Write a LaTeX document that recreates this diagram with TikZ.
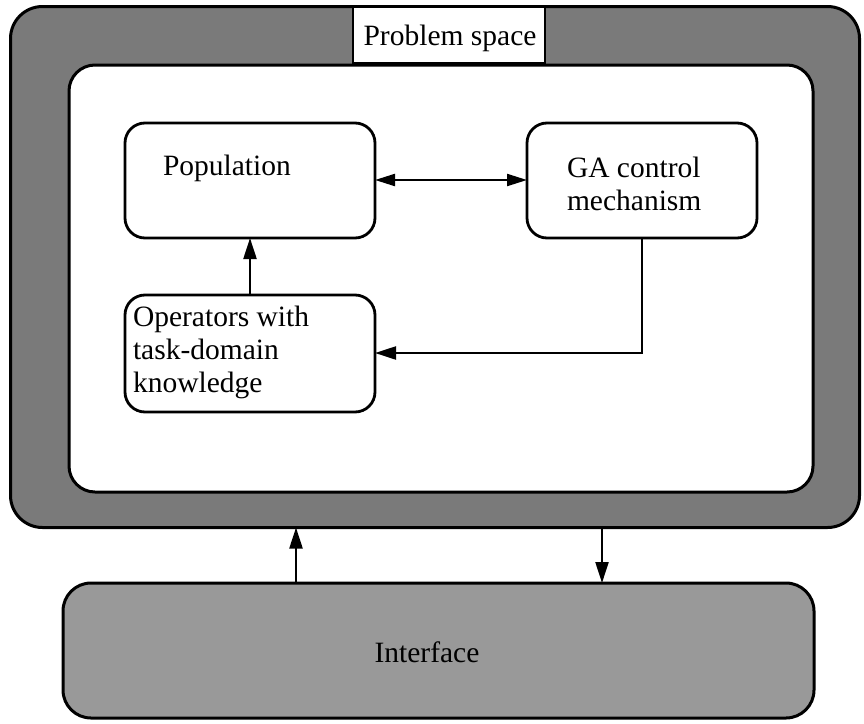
\documentclass[tikz,border=0pt]{standalone}
\usepackage{fontspec}
\setmainfont{Liberation Serif}
\usetikzlibrary{arrows.meta}
\definecolor{framegray}{gray}{0.48}
\definecolor{ifacegray}{gray}{0.6}
\begin{document}
\begin{tikzpicture}[x=1pt,y=-1pt,
  every node/.style={font=\fontsize{29.5}{33}\selectfont, inner sep=0pt, outer sep=0pt},
  box/.style={draw, line width=2.8pt, rounded corners=20pt, minimum width=#1},
  txt/.style={align=left, anchor=north west},
  arr/.style={line width=2.2pt, -{Triangle[length=21pt,width=13pt]}},
  darr/.style={line width=2.2pt, {Triangle[length=20pt,width=12pt]}-{Triangle[length=20pt,width=12pt]}}
]
\useasboundingbox (0,0) rectangle (864,723);
% outer frame
\node[draw, line width=3pt, rounded corners=32pt, fill=framegray,
      minimum width=849pt, minimum height=521pt] (outer) at (435,267) {};
% inner white area
\node[draw, line width=3pt, rounded corners=26pt, fill=white,
      minimum width=744pt, minimum height=427pt] (inner) at (441,278.5) {};
% label tab
\node[draw, line width=2.6pt, fill=white, minimum width=192pt, minimum height=56pt] (tab) at (449,35) {};
\node (tabtxt) at (450,38) {Problem space};
% boxes
\node[box=250pt, minimum height=115pt] (pop) at (250,180.5) {};
\node[txt] (poptxt) at (163,155) {Population};
\node[box=230pt, minimum height=115pt] (ga) at (642,180.5) {};
\node[txt] (gatxt) at (567,157) {GA control\\mechanism};
\node[box=250pt, minimum height=117pt] (op) at (250,353.5) {};
\node[txt] (optxt) at (133,306) {Operators with\\task-domain\\knowledge};
% interface
\node[draw, line width=3pt, rounded corners=28pt, fill=ifacegray,
      minimum width=751pt, minimum height=135pt] (iface) at (438.5,650.5) {};
\node (ifacetxt) at (427,652) {Interface};
% connectors
\draw[darr] (pop.east |- 0,180) -- (ga.west |- 0,180);
\draw[arr] (op.north) -- (op.north |- pop.south);
\coordinate (bend) at (642,353);
\draw[arr] (ga.south) -- (bend) -- (op.east |- bend);
\draw[arr] (iface.north -| 296,0) -- (outer.south -| 296,0);
\draw[arr] (outer.south -| 602,0) -- (iface.north -| 602,0);
\end{tikzpicture}
\end{document}
